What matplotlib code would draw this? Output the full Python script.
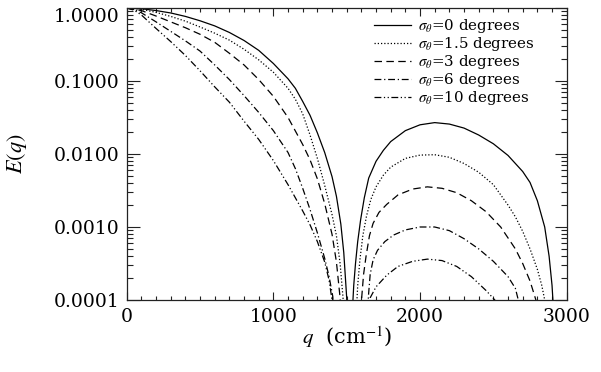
import numpy as np
import matplotlib
matplotlib.use("Agg")
import matplotlib.pyplot as plt
from matplotlib.ticker import FixedLocator, MultipleLocator, LogLocator, FuncFormatter

# ---- data: q (cm^-1) and log10 E(q) read on the log axis ----
labels = [r"$\sigma_\theta$=0 degrees", r"$\sigma_\theta$=1.5 degrees",
          r"$\sigma_\theta$=3 degrees", r"$\sigma_\theta$=6 degrees",
          r"$\sigma_\theta$=10 degrees"]

# sigma = 0
q0a = [0, 100, 200, 300, 400, 500, 600, 700, 800, 900, 1000, 1100, 1150, 1200, 1250, 1300,
       1350, 1400, 1430, 1460, 1480, 1500, 1510]
lg0a = [0, -0.01, -0.035, -0.068, -0.115, -0.175, -0.245, -0.335, -0.445, -0.58, -0.76, -0.97,
        -1.10, -1.28, -1.47, -1.71, -1.98, -2.31, -2.58, -2.96, -3.35, -3.97, -4.6]
q0b = [1536, 1540, 1548, 1560, 1575, 1595, 1620, 1650, 1700, 1750, 1800, 1900, 2000, 2100,
       2200, 2300, 2400, 2500, 2600, 2700, 2750, 2800, 2850, 2880, 2900, 2906, 2915]
lg0b = [-4.4, -4.1, -3.8, -3.5, -3.2, -2.9, -2.6, -2.33, -2.10, -1.95, -1.83, -1.68, -1.60,
        -1.57, -1.59, -1.645, -1.74, -1.86, -2.02, -2.24, -2.39, -2.64, -3.0, -3.40, -3.8,
        -4.0, -4.4]

# sigma = 1.5
q1a = [0, 100, 200, 300, 400, 500, 600, 700, 800, 900, 1000, 1100, 1150, 1200, 1250, 1300,
       1350, 1400, 1430, 1455, 1475, 1485]
lg1a = [0, -0.018, -0.06, -0.115, -0.18, -0.26, -0.345, -0.44, -0.565, -0.71, -0.88, -1.10,
        -1.25, -1.45, -1.74, -2.06, -2.43, -2.83, -3.12, -3.50, -3.97, -4.4]
q1b = [1565, 1575, 1590, 1610, 1635, 1665, 1700, 1750, 1800, 1900, 2000, 2100, 2200, 2300,
       2400, 2500, 2600, 2650, 2700, 2750, 2800, 2830, 2850, 2860]
lg1b = [-4.2, -3.8, -3.45, -3.12, -2.85, -2.62, -2.45, -2.29, -2.18, -2.06, -2.015, -2.01,
        -2.045, -2.13, -2.25, -2.42, -2.70, -2.86, -3.06, -3.30, -3.58, -3.80, -4.0, -4.3]

# sigma = 3
q2a = [0, 100, 200, 300, 400, 500, 600, 700, 800, 900, 1000, 1100, 1200, 1250, 1300, 1350,
       1400, 1430, 1455, 1465]
lg2a = [0, -0.035, -0.11, -0.19, -0.27, -0.36, -0.47, -0.62, -0.78, -0.98, -1.21, -1.50,
        -1.87, -2.08, -2.34, -2.68, -3.10, -3.48, -3.97, -4.4]
q2b = [1595, 1603, 1615, 1632, 1655, 1680, 1720, 1773, 1850, 1950, 2050, 2150, 2250, 2350,
       2450, 2550, 2650, 2700, 2750, 2790, 2800]
lg2b = [-4.3, -3.95, -3.65, -3.40, -3.12, -2.95, -2.80, -2.69, -2.56, -2.48, -2.45, -2.47,
        -2.53, -2.64, -2.79, -3.00, -3.30, -3.50, -3.74, -4.0, -4.3]

# sigma = 6
q3a = [0, 50, 100, 200, 300, 400, 500, 600, 700, 800, 900, 1000, 1100, 1150, 1200, 1250,
       1300, 1350, 1380, 1405, 1415]
lg3a = [0, -0.02, -0.065, -0.19, -0.32, -0.45, -0.59, -0.78, -0.98, -1.20, -1.43, -1.68,
        -1.98, -2.20, -2.47, -2.76, -3.08, -3.43, -3.68, -3.95, -4.3]
q3b = [1640, 1648, 1660, 1680, 1710, 1760, 1820, 1900, 2000, 2100, 2200, 2300, 2400, 2500,
       2600, 2650, 2670, 2690]
lg3b = [-4.3, -3.95, -3.65, -3.45, -3.32, -3.20, -3.11, -3.04, -3.0, -3.0, -3.05, -3.16,
        -3.30, -3.47, -3.68, -3.84, -4.0, -4.3]

# sigma = 10
q4a = [0, 50, 100, 200, 300, 400, 500, 600, 700, 800, 900, 1000, 1100, 1200, 1250, 1300,
       1350, 1380, 1400, 1410]
lg4a = [0, -0.03, -0.095, -0.28, -0.46, -0.65, -0.86, -1.08, -1.29, -1.55, -1.80, -2.09,
        -2.42, -2.78, -2.97, -3.20, -3.48, -3.73, -4.0, -4.4]
q4b = [1640, 1660, 1700, 1773, 1850, 1950, 2050, 2150, 2250, 2350, 2450, 2510, 2530]
lg4b = [-4.2, -3.97, -3.82, -3.66, -3.54, -3.47, -3.44, -3.46, -3.54, -3.68, -3.87, -4.0, -4.2]

series = [(q0a, lg0a, q0b, lg0b), (q1a, lg1a, q1b, lg1b), (q2a, lg2a, q2b, lg2b),
          (q3a, lg3a, q3b, lg3b), (q4a, lg4a, q4b, lg4b)]

xticks = [0, 1000, 2000, 3000]
yticks = [1e-4, 1e-3, 1e-2, 1e-1, 1.0]

styles = ["-", (0, (1, 1.6)), (0, (6, 3.5)), (0, (5.5, 2.2, 1, 2.2)),
          (0, (5.5, 2, 1, 2, 1, 2))]

plt.rcParams["mathtext.fontset"] = "stix"
plt.rcParams["font.family"] = ["DejaVu Serif"]

fig = plt.figure(figsize=(6.01, 3.72), dpi=100)
ax = fig.add_axes([126.7 / 601, 1 - 300 / 372, 440 / 601, 292 / 372])

for (qa, la, qb, lb), ls, lab in zip(series, styles, labels):
    ax.plot(qa, np.power(10.0, la), color="black", lw=0.9, ls=ls, label=lab)
    ax.plot(qb, np.power(10.0, lb), color="black", lw=0.9, ls=ls)

ax.set_yscale("log")
ax.set_xlim(0, 3000)
ax.set_ylim(1e-4, 1.0)
ax.xaxis.set_major_locator(FixedLocator(xticks))
ax.xaxis.set_minor_locator(MultipleLocator(100))
ax.yaxis.set_major_locator(FixedLocator(yticks))
ax.yaxis.set_minor_locator(LogLocator(base=10, subs=np.arange(2, 10)))
ax.yaxis.set_major_formatter(FuncFormatter(lambda v, p: "%.4f" % v))
ax.yaxis.set_minor_formatter(FuncFormatter(lambda v, p: ""))

ax.tick_params(which="both", direction="in", top=True, right=True, color="#222222", width=0.8)
ax.tick_params(axis="x", which="major", length=6, labelsize=13.5, pad=6)
ax.tick_params(axis="x", which="minor", length=3)
ax.tick_params(axis="y", which="major", length=9, labelsize=13.5, pad=5)
ax.tick_params(axis="y", which="minor", length=4.5)
for s in ax.spines.values():
    s.set_linewidth(0.9)
    s.set_color("#222222")

ax.set_xlabel(r"$q$  (cm$^{-1}$)", fontsize=15)
ax.xaxis.set_label_coords(0.5, -0.083)
ax.set_ylabel(r"$E(q)$", fontsize=16)
ax.yaxis.set_label_coords(-0.222, 0.5)

leg = ax.legend(loc="upper left", frameon=False, fontsize=10.8, handlelength=2.45,
                handletextpad=0.5, labelspacing=0.0, borderpad=0, borderaxespad=0,
                bbox_to_anchor=(0.562, 0.968))

fig.canvas.draw()
for t in ax.get_yticklabels():
    if t.get_text() == "1.0000":
        t.set_va("top")

fig.savefig("out.png", dpi=100)
